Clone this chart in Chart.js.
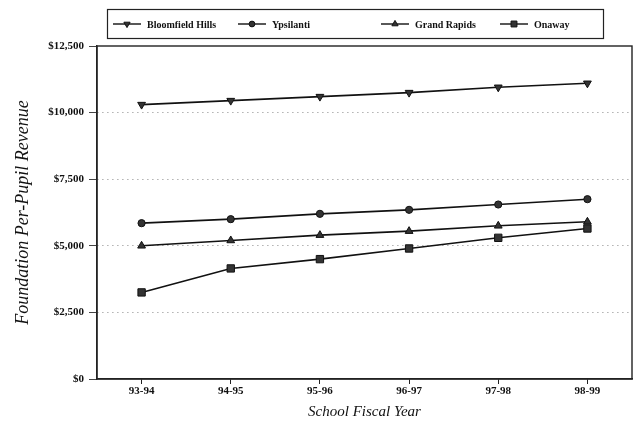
<!DOCTYPE html>
<html>
<head>
<meta charset="utf-8">
<script src="https://cdn.jsdelivr.net/npm/chart.js@4/dist/chart.umd.min.js"></script>
<style>
  body { margin: 0; background: #fff; }
  #wrap { width: 639px; height: 421px; }
</style>
</head>
<body>
<div id="wrap"><canvas id="c"></canvas></div>
<script>
var years = ['93-94', '94-95', '95-96', '96-97', '97-98', '98-99'];
var bloomfield = [10300, 10450, 10600, 10750, 10950, 11100];
var ypsilanti = [5850, 6000, 6200, 6350, 6550, 6750];
var grandRapids = [5000, 5200, 5400, 5550, 5750, 5900];
var onaway = [3250, 4150, 4500, 4900, 5300, 5650];
var yTicks = [0, 2500, 5000, 7500, 10000, 12500];

var serif = "'Liberation Serif', 'DejaVu Serif', serif";

function series(label, data, style, r, rot) {
  return {
    label: label,
    data: data,
    borderColor: '#111',
    backgroundColor: '#333',
    borderWidth: 1.6,
    pointStyle: style,
    rotation: rot || 0,
    pointRadius: r,
    pointBorderWidth: 1,
    tension: 0
  };
}

// legend box with line + marker for each series
var boxLegend = {
  id: 'boxLegend',
  afterDraw: function(chart) {
    var ctx = chart.ctx;
    var xs = [113, 238, 381, 500];
    ctx.save();
    ctx.strokeStyle = '#222';
    ctx.lineWidth = 1.2;
    ctx.strokeRect(107.5, 9.5, 496, 29);
    ctx.font = 'bold 10px ' + serif;
    ctx.textBaseline = 'middle';
    chart.data.datasets.forEach(function(ds, i) {
      var x = xs[i], y = 24;
      ctx.strokeStyle = '#111';
      ctx.fillStyle = '#333';
      ctx.lineWidth = 1.4;
      ctx.beginPath();
      ctx.moveTo(x, y);
      ctx.lineTo(x + 28, y);
      ctx.stroke();
      ctx.lineWidth = 1;
      Chart.helpers.drawPoint(ctx, {pointStyle: ds.pointStyle, rotation: ds.rotation, radius: ds.pointRadius * 0.8, borderWidth: 1}, x + 14, y);
      ctx.fillStyle = '#111';
      ctx.fillText(ds.label, x + 34, y + 1);
    });
    ctx.restore();
  }
};

// box around plot area (top and right edges)
var frame = {
  id: 'frame',
  afterDraw: function(chart) {
    var a = chart.chartArea, ctx = chart.ctx;
    ctx.save();
    ctx.strokeStyle = '#222';
    ctx.lineWidth = 1.4;
    ctx.strokeRect(a.left, a.top, a.right - a.left, a.bottom - a.top);
    ctx.restore();
  }
};

new Chart(document.getElementById('c'), {
  type: 'line',
  data: {
    labels: years,
    datasets: [
      series('Bloomfield Hills', bloomfield, 'triangle', 4.5, 180),
      series('Ypsilanti', ypsilanti, 'circle', 3.6),
      series('Grand Rapids', grandRapids, 'triangle', 4.5),
      series('Onaway', onaway, 'rect', 5.2)
    ]
  },
  options: {
    responsive: true,
    maintainAspectRatio: false,
    animation: false,
    layout: { padding: { top: 46, right: 7, left: 0, bottom: 0 } },
    plugins: {
      legend: { display: false },
      tooltip: { enabled: false }
    },
    scales: {
      x: {
        offset: true,
        afterFit: function(s) { s.height = 42; },
        grid: { offset: false, drawOnChartArea: false, drawTicks: true, tickLength: 5, tickColor: '#222' },
        border: { color: '#222', width: 1.4 },
        ticks: { color: '#111', padding: 1, font: { family: serif, size: 11, weight: 'bold' } },
        title: { display: true, text: 'School Fiscal Year', color: '#111', padding: 0,
                 font: { family: serif, size: 15, style: 'italic' } }
      },
      y: {
        min: 0,
        max: 12500,
        afterFit: function(s) { s.width = 97; },
        afterBuildTicks: function(s) { s.ticks = yTicks.map(function(v) { return {value: v}; }); },
        grid: {
          color: function(c) { return (c.tick && (c.tick.value === 0 || c.tick.value === 12500)) ? 'rgba(0,0,0,0)' : '#888'; },
          lineWidth: 1,
          drawTicks: true,
          tickLength: 8,
          tickColor: '#444',
          tickBorderDash: []
        },
        border: { color: '#222', width: 1.4, dash: [1, 4] },
        ticks: {
          color: '#111',
          padding: 5,
          font: { family: serif, size: 11, weight: 'bold' },
          callback: function(v) { return '$' + v.toLocaleString('en-US'); }
        },
        title: { display: true, text: 'Foundation Per-Pupil Revenue', color: '#111', padding: { top: 12, bottom: 0 },
                 font: { family: serif, size: 18, style: 'italic' } }
      }
    }
  },
  plugins: [boxLegend, frame]
});
</script>
</body>
</html>
